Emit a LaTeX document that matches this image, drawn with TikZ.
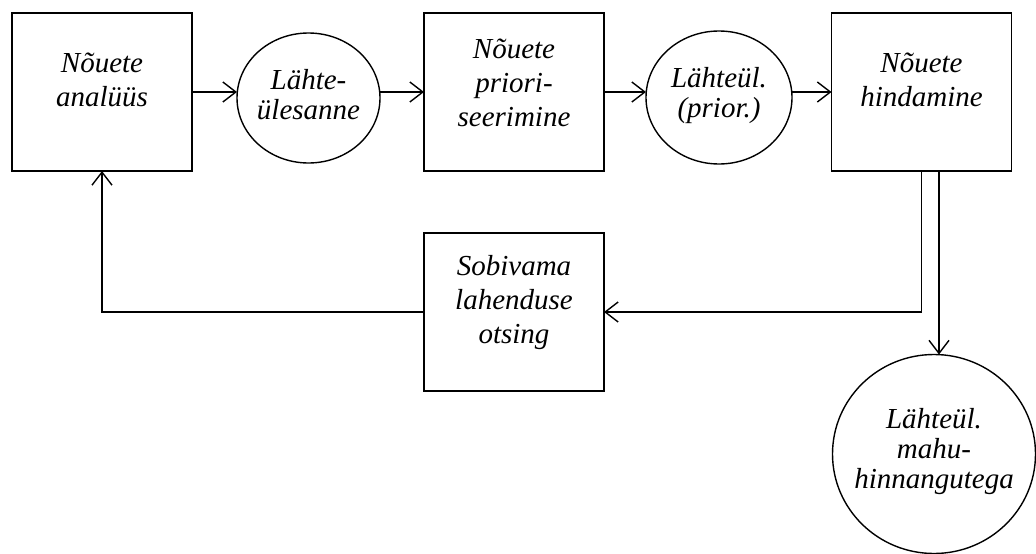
\documentclass[tikz,border=0pt]{standalone}
\usepackage{fontspec}
\setmainfont{Liberation Serif}
\usetikzlibrary{arrows.meta,shapes.geometric}
\begin{document}
\begin{tikzpicture}[x=1pt,y=-1pt,
  every node/.style={inner sep=0pt, outer sep=0pt},
  box/.style={draw, line width=1.4pt, rectangle, minimum width=180pt, minimum height=158pt},
  oval/.style={draw, line width=1.4pt, ellipse},
  boxtext/.style={font=\fontsize{29}{34}\selectfont\itshape, align=center},
  ovaltext/.style={font=\fontsize{29}{30}\selectfont\itshape, align=center},
  flow/.style={line width=1.4pt, -{Straight Barb[length=13pt,width=20pt,line width=1.4pt]}}
]
\useasboundingbox (0,0) rectangle (1036,554);

% process boxes and data stores
\node[box] (b1) at (102,92) {};
\node[oval, minimum width=143pt, minimum height=130pt] (e1) at (308.5,98) {};
\node[box] (b2) at (514,92) {};
\node[oval, minimum width=146pt, minimum height=133pt] (e2) at (719,97.5) {};
\node[box] (b3) at (921.5,92) {};
\node[box] (b4) at (514,312) {};
\node[oval, minimum width=203pt, minimum height=199pt] (c) at (934,454) {};

% texts
\node[boxtext] (t1) at ([yshift=12pt]b1.center) {Nõuete\\analüüs};
\node[ovaltext] (t2) at ([yshift=3pt]e1.center) {Lähte-\\ülesanne};
\node[boxtext] (t3) at ([yshift=9pt]b2.center) {Nõuete\\priori-\\seerimine};
\node[ovaltext] (t4) at ([yshift=2pt]e2.center) {Lähteül.\\(prior.)};
\node[boxtext] (t5) at ([yshift=12pt]b3.center) {Nõuete\\hindamine};
\node[boxtext] (t6) at ([yshift=9pt]b4.center) {Sobivama\\lahenduse\\otsing};
\node[ovaltext] (t7) at ([yshift=2pt]c.center) {Lähteül.\\mahu-\\hinnangutega};

% connectors
\draw[flow] (b1.east) -- (b1.east -| e1.west);
\draw[flow] (b2.west -| e1.east) -- (b2.west);
\draw[flow] (b2.east) -- (b2.east -| e2.west);
\draw[flow] (b3.west -| e2.east) -- (b3.west);
\draw[flow] (b3.south) |- (b4.east);
\draw[flow] (b4.west) -| (b1.south);
\coordinate (tap) at ([xshift=17.5pt]b3.south);
\draw[flow] (tap) -- (tap |- c.north);
\end{tikzpicture}
\end{document}
